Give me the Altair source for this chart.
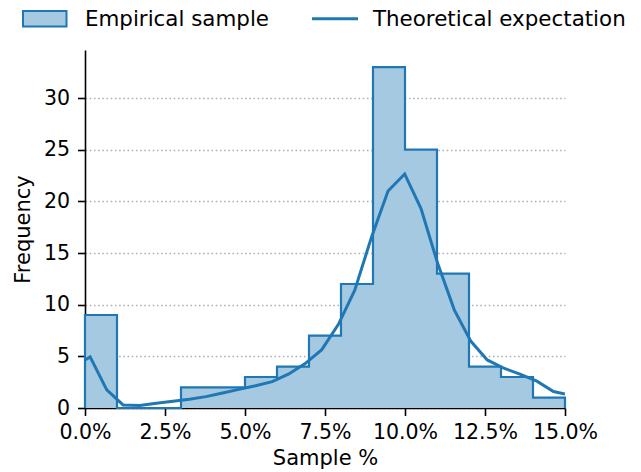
import altair as alt
import pandas as pd

# Histogram data (bin edges in %, counts)
bin_edges = [0, 1, 2, 3, 4, 5, 6, 7, 8, 9, 10, 11, 12, 13, 14, 15]
counts = [9, 0, 0, 2, 2, 3, 4, 7, 12, 33, 25, 13, 4, 3, 1]

# Theoretical expectation curve
theo_x = [0.0, 0.16, 0.68, 1.19, 1.71, 2.23, 2.75, 3.26, 3.78, 4.30, 4.81, 5.33,
          5.85, 6.37, 6.88, 7.40, 7.92, 8.43, 8.95, 9.47, 9.99, 10.50, 11.02,
          11.54, 12.06, 12.57, 13.09, 13.61, 14.12, 14.64, 15.0]
theo_y = [4.65, 4.95, 1.75, 0.30, 0.25, 0.45, 0.65, 0.85, 1.10, 1.45, 1.80, 2.15,
          2.55, 3.30, 4.30, 5.65, 8.10, 11.40, 16.50, 21.0, 22.65, 19.30, 14.0,
          9.50, 6.45, 4.65, 3.85, 3.25, 2.60, 1.60, 1.35]

x_ticks = [0, 2.5, 5, 7.5, 10, 12.5, 15]
y_ticks = [0, 5, 10, 15, 20, 25, 30]

BLUE = "#1f77b4"
FILL = "#a5c9e1"
FONT = "DejaVu Sans"

bars = pd.DataFrame({
    "x0": bin_edges[:-1],
    "x1": bin_edges[1:],
    "count": counts,
})

# step outline path built from the histogram counts
ox, oy = [bin_edges[0]], [0]
for i, c in enumerate(counts):
    ox += [bin_edges[i], bin_edges[i + 1]]
    oy += [c, c]
ox.append(bin_edges[-1])
oy.append(0)
outline = pd.DataFrame({"x": ox, "y": oy, "o": list(range(len(ox)))})

theo = pd.DataFrame({"x": theo_x, "y": theo_y, "o": list(range(len(theo_x)))})

xscale = alt.Scale(domain=[0, 15], nice=False, zero=False)
yscale = alt.Scale(domain=[0, 34.65], nice=False)

xaxis = alt.Axis(values=x_ticks, labelExpr="format(datum.value, '.1f') + '%'",
                 title="Sample %", grid=False, labelOverlap=False, labelFlush=False)
yaxis = alt.Axis(values=y_ticks, title="Frequency", grid=True, labelOverlap=False,
                 gridColor="#b0b0b0", gridDash=[1.6, 2.6], gridWidth=1.4)

bar_layer = alt.Chart(bars).mark_rect(fill=FILL, strokeWidth=0).encode(
    x=alt.X("x0:Q", scale=xscale, axis=xaxis),
    x2="x1:Q",
    y=alt.Y("count:Q", scale=yscale, axis=yaxis),
    y2=alt.datum(0),
)

outline_layer = alt.Chart(outline).mark_line(color=BLUE, strokeWidth=2.2, clip=False).encode(
    x=alt.X("x:Q", scale=xscale),
    y=alt.Y("y:Q", scale=yscale),
    order="o:Q",
)

theo_layer = alt.Chart(theo).mark_line(color=BLUE, strokeWidth=3, clip=True).encode(
    x=alt.X("x:Q", scale=xscale),
    y=alt.Y("y:Q", scale=yscale),
    order="o:Q",
)

# Manual legend
leg_rect = alt.Chart(pd.DataFrame({"a": [0]})).mark_rect(
    fill=FILL, stroke=BLUE, strokeWidth=2
).encode(x=alt.value(-62), x2=alt.value(-18.5), y=alt.value(-39), y2=alt.value(-23.5))

leg_line = alt.Chart(pd.DataFrame({"a": [0]})).mark_rule(
    color=BLUE, strokeWidth=3
).encode(x=alt.value(227), x2=alt.value(273), y=alt.value(-31.3))

leg_text1 = alt.Chart(pd.DataFrame({"t": ["Empirical sample"]})).mark_text(
    align="left", baseline="alphabetic", font=FONT, fontSize=21.4, color="#000000"
).encode(x=alt.value(0), y=alt.value(-24), text="t:N")

leg_text2 = alt.Chart(pd.DataFrame({"t": ["Theoretical expectation"]})).mark_text(
    align="left", baseline="alphabetic", font=FONT, fontSize=21.4, color="#000000"
).encode(x=alt.value(288), y=alt.value(-24), text="t:N")

chart = alt.layer(
    bar_layer, outline_layer, theo_layer, leg_rect, leg_line, leg_text1, leg_text2
).properties(
    width=480, height=358,
    autosize=alt.AutoSizeParams(type="none"),
    padding={"left": 77, "top": 42, "right": 68, "bottom": 62},
).configure_view(
    stroke=None
).configure_axis(
    labelFont=FONT, titleFont=FONT, labelFontSize=20.5, titleFontSize=21,
    labelColor="#000000", titleColor="#000000", titleFontWeight="normal",
    domainColor="#000000", domainWidth=1.6, tickColor="#000000", tickWidth=1.6,
    tickSize=7.5,
).configure_axisX(
    labelPadding=7, titlePadding=4,
).configure_axisY(
    labelPadding=8, titlePadding=10,
)

chart.save("out.html", embed_options={"renderer": "svg", "actions": False})
